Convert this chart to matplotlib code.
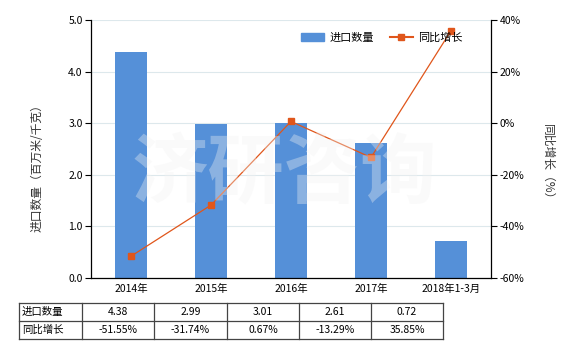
import matplotlib
matplotlib.use("Agg")
import matplotlib.pyplot as plt
from matplotlib.lines import Line2D
from matplotlib.patches import Patch

plt.rcParams['font.family'] = ['Noto Sans CJK SC', 'DejaVu Sans']

categories = ["2014年", "2015年", "2016年", "2017年", "2018年1-3月"]
import_qty = [4.38, 2.99, 3.01, 2.61, 0.72]
yoy_growth = [-51.55, -31.74, 0.67, -13.29, 35.85]
qty_labels = ["4.38", "2.99", "3.01", "2.61", "0.72"]
growth_labels = ["-51.55%", "-31.74%", "0.67%", "-13.29%", "35.85%"]
left_ticks = [0.0, 1.0, 2.0, 3.0, 4.0, 5.0]
right_ticks = [-60, -40, -20, 0, 20, 40]

W, H = 580, 350
fig = plt.figure(figsize=(W / 100, H / 100), dpi=100)
ax = fig.add_axes([91 / W, 1 - 278 / H, 400 / W, 258 / H])
ax2 = ax.twinx()

bar_color = "#5590D8"
line_color = "#E0561B"
x = list(range(len(categories)))
ax.bar(x, import_qty, width=0.4, color=bar_color, zorder=2)
ax.set_xlim(-0.5, len(categories) - 0.5)
ax.set_ylim(0, 5)
ax.set_yticks(left_ticks)
ax.set_yticklabels([f"{v:.1f}" for v in left_ticks], fontsize=7.5)
ax.set_xticks(x)
ax.set_xticklabels(categories, fontsize=7.5)
ax.tick_params(axis='x', length=0, pad=4)
ax.tick_params(axis='y', length=4, width=0.8, pad=2)
ax.grid(axis='y', color="#DDE8EC", linewidth=0.8, zorder=0)
ax.set_axisbelow(True)
for s in ['top', 'right']:
    ax.spines[s].set_visible(False)
ax.spines['left'].set_linewidth(0.9)
ax.spines['bottom'].set_linewidth(0.9)

ax2.plot(x, yoy_growth, color=line_color, linewidth=0.9, marker='s', markersize=4, zorder=3)
ax2.set_ylim(-60, 40)
ax2.set_yticks(right_ticks)
ax2.set_yticklabels([f"{v}%" for v in right_ticks], fontsize=7.5)
ax2.tick_params(axis='y', length=4, width=0.8, pad=2)
for s in ['top', 'left', 'bottom']:
    ax2.spines[s].set_visible(False)
ax2.spines['right'].set_linewidth(0.9)

fig.text(37 / W, 1 - 165 / H, "进口数量（百万米/千克）", rotation=90, ha='center', va='center', fontsize=8.5, color="#333333")
fig.text(548 / W, 1 - 165 / H, "同比增长（%）", rotation=-90, ha='center', va='center', fontsize=8.5, color="#333333")

# watermark (drawn over the plot, semi-transparent)
fig.text(284 / W, 1 - 175 / H, "济研咨询", ha='center', va='center', fontsize=55, fontweight='bold',
         color="#F2F2F2", alpha=0.35, zorder=10)

handles = [Patch(color=bar_color, label="进口数量"),
           Line2D([0], [0], color=line_color, marker='s', markersize=4, linewidth=1.5, label="同比增长")]
fig.legend(handles=handles, loc='center', bbox_to_anchor=(382 / W, 1 - 38 / H), ncol=2, frameon=False,
           fontsize=8, handlelength=2.0, columnspacing=1.5, handletextpad=0.5)

# table
cols = [19, 82, 154, 227, 299, 371, 443]
rows = [303, 321, 339]
lc = "#444444"
for yy in rows:
    fig.add_artist(Line2D([cols[0] / W, cols[-1] / W], [1 - yy / H, 1 - yy / H], color=lc, linewidth=0.9))
for xx in cols:
    fig.add_artist(Line2D([xx / W, xx / W], [1 - rows[0] / H, 1 - rows[-1] / H], color=lc, linewidth=0.9))
row_names = ["进口数量", "同比增长"]
row_vals = [qty_labels, growth_labels]
for r in range(2):
    yc = 1 - (rows[r] + rows[r + 1]) / 2 / H
    fig.text((cols[0] + 3) / W, yc, row_names[r], ha='left', va='center', fontsize=7.5)
    for c in range(5):
        xc = (cols[c + 1] + cols[c + 2]) / 2 / W
        fig.text(xc, yc, row_vals[r][c], ha='center', va='center', fontsize=7.5)

fig.savefig("out.png", dpi=100)
